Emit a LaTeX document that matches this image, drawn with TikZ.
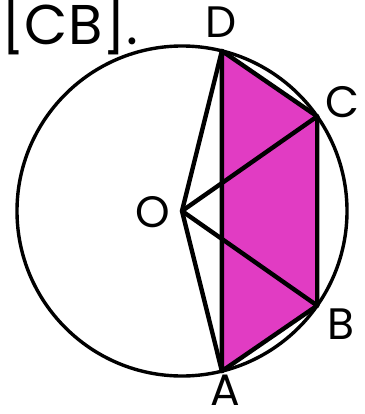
\documentclass[tikz,border=0pt]{standalone}
\usepackage{fontspec}
\setmainfont{Poppins}
\begin{document}
\begin{tikzpicture}[x=1pt,y=-1pt,
  lbl/.style={font=\fontsize{44}{44}\selectfont,inner sep=0pt,anchor=base},
  ln/.style={line width=4.4pt,line join=round,line cap=round}]
\definecolor{mag}{RGB}{225,60,195}
\useasboundingbox (0,0) rectangle (364,414);
\coordinate (O) at (182,211);
\coordinate (D) at (221.9,50.9);
\coordinate (C) at (317.2,116.4);
\coordinate (B) at (317.2,305.6);
\coordinate (A) at (221.9,371.1);
\fill[mag] (A) -- (D) -- (C) -- (B) -- cycle;
\draw[line width=3.4pt] (O) circle[radius=165];
\draw[ln] (A) -- (D) -- (C) -- (B) -- cycle;
\draw[ln] (D) -- (O) -- (A);
\draw[ln] (C) -- (O) -- (B);
\node[lbl] (lD) at (221.5,38) {D};
\node[lbl] (lC) at (342,118) {C};
\node[lbl] (lB) at (341,339) {B};
\node[lbl] (lA) at (225,405) {A};
\node[lbl] (lO) at (153,227) {O};
\node[font=\fontsize{56}{56}\selectfont,inner sep=0pt,anchor=base west] (cb) at (1,45) {[CB].};
\end{tikzpicture}
\end{document}
